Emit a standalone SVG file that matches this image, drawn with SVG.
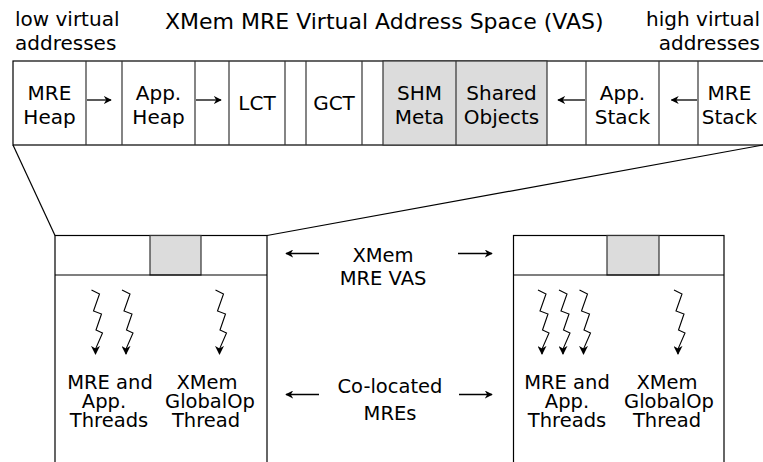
<svg xmlns="http://www.w3.org/2000/svg" width="763" height="462" viewBox="0 0 763 462">
<style>
  text { font-family: "DejaVu Sans", Verdana, sans-serif; fill: #000; }
  .title { font-size: 22px; }
  .lbl { font-size: 20px; }
  .cell { font-size: 20px; text-anchor: middle; }
  .sm { font-size: 19.5px; text-anchor: middle; }
  .box { fill: #fff; stroke: #000; stroke-width: 1.2; }
  .gray { fill: #dcdcdc; stroke: #333; stroke-width: 1.2; }
  .div { stroke: #333; stroke-width: 1.2; fill: none; }
  .ln { stroke: #000; stroke-width: 1.2; fill: none; }
  .arr { stroke: #000; stroke-width: 1.3; fill: none; marker-end: url(#ah); }
  .sq { stroke: #000; stroke-width: 1.1; fill: none; marker-end: url(#ah2); }
</style>
<defs>
  <marker id="ah" viewBox="0 0 10 10" refX="9" refY="5" markerWidth="8" markerHeight="8" markerUnits="userSpaceOnUse" orient="auto">
    <path d="M0,0 L10,5 L0,10 L3,5 Z" fill="#000"/>
  </marker>
  <marker id="ah2" viewBox="0 0 10 10" refX="9" refY="5" markerWidth="9" markerHeight="9" markerUnits="userSpaceOnUse" orient="auto">
    <path d="M0,0 L10,5 L0,10 L3,5 Z" fill="#000"/>
  </marker>
  <path id="squig" d="M-4,-65 L4,-61 L-2,-44 L6,-41 L0.5,-25 L7,-22 L0,-6 L0,-1"/>
</defs>

<g id="labels">
  <text class="lbl" x="15" y="26">low virtual</text>
  <text class="lbl" x="15" y="50">addresses</text>
  <text class="title" x="165" y="29">XMem MRE Virtual Address Space (VAS)</text>
  <text class="lbl" x="760" y="26" text-anchor="end">high virtual</text>
  <text class="lbl" x="760" y="50" text-anchor="end">addresses</text>
</g>

<g id="vas-bar">
  <rect class="box" x="13" y="61" width="760" height="84"/>
  <rect class="gray" x="383" y="61" width="164" height="84"/>
  <g class="div">
    <line x1="86" y1="61" x2="86" y2="145"/>
    <line x1="122" y1="61" x2="122" y2="145"/>
    <line x1="195" y1="61" x2="195" y2="145"/>
    <line x1="229" y1="61" x2="229" y2="145"/>
    <line x1="285" y1="61" x2="285" y2="145"/>
    <line x1="306" y1="61" x2="306" y2="145"/>
    <line x1="362" y1="61" x2="362" y2="145"/>
    <line x1="456" y1="61" x2="456" y2="145"/>
    <line x1="586" y1="61" x2="586" y2="145"/>
    <line x1="659" y1="61" x2="659" y2="145"/>
    <line x1="698" y1="61" x2="698" y2="145"/>
  </g>
</g>

<g id="mre-heap"><text class="cell" x="49.5" y="99.5">MRE</text><text class="cell" x="49.5" y="123.5">Heap</text></g>
<g id="app-heap"><text class="cell" x="158.5" y="99.5">App.</text><text class="cell" x="158.5" y="123.5">Heap</text></g>
<g id="lct"><text class="cell" x="257" y="110">LCT</text></g>
<g id="gct"><text class="cell" x="334" y="110">GCT</text></g>
<g id="shm-meta"><text class="cell" x="419.5" y="99.5">SHM</text><text class="cell" x="419.5" y="123.5">Meta</text></g>
<g id="shared-objects"><text class="cell" x="501.5" y="99.5">Shared</text><text class="cell" x="501.5" y="123.5">Objects</text></g>
<g id="app-stack"><text class="cell" x="622.5" y="99.5">App.</text><text class="cell" x="622.5" y="123.5">Stack</text></g>
<g id="mre-stack"><text class="cell" x="729.5" y="99.5">MRE</text><text class="cell" x="729.5" y="123.5">Stack</text></g>

<g id="left-mre">
  <rect class="box" x="55" y="235.5" width="212" height="240"/>
  <rect class="gray" x="150" y="235.5" width="51" height="39.5"/>
  <line class="ln" x1="55" y1="275" x2="267" y2="275"/>
  <g class="sq">
    <use href="#squig" transform="translate(95.5,355)"/>
    <use href="#squig" transform="translate(126,355)"/>
    <use href="#squig" transform="translate(219.5,355)"/>
  </g>
  <text class="sm" x="110" y="388.5">MRE and</text>
  <text class="sm" x="104" y="407.5">App.</text>
  <text class="sm" x="109" y="426.5">Threads</text>
  <text class="sm" x="207" y="388.5">XMem</text>
  <text class="sm" x="210" y="407.5">GlobalOp</text>
  <text class="sm" x="206" y="426.5">Thread</text>
</g>

<g id="right-mre">
  <rect class="box" x="513.5" y="235.5" width="210.5" height="240"/>
  <rect class="gray" x="607" y="235.5" width="52" height="39.5"/>
  <line class="ln" x1="513.5" y1="275" x2="724" y2="275"/>
  <g class="sq">
    <use href="#squig" transform="translate(542,355)"/>
    <use href="#squig" transform="translate(563,355)"/>
    <use href="#squig" transform="translate(583.5,355)"/>
    <use href="#squig" transform="translate(678,355)"/>
  </g>
  <text class="sm" x="567" y="388.5">MRE and</text>
  <text class="sm" x="567" y="407.5">App.</text>
  <text class="sm" x="567" y="426.5">Threads</text>
  <text class="sm" x="667" y="388.5">XMem</text>
  <text class="sm" x="669" y="407.5">GlobalOp</text>
  <text class="sm" x="667" y="426.5">Thread</text>
</g>

<g id="middle-labels">
  <text class="sm" x="383" y="261.5">XMem</text>
  <text class="sm" x="383" y="285">MRE VAS</text>
  <text class="sm" x="390" y="392.5">Co-located</text>
  <text class="sm" x="390" y="420">MREs</text>
</g>

<g id="connectors">
  <line class="ln" x1="13" y1="145" x2="55" y2="235.5"/>
  <line class="ln" x1="763" y1="145" x2="267" y2="235.5"/>
  <line class="arr" x1="87" y1="100" x2="111" y2="100"/>
  <line class="arr" x1="196" y1="100" x2="221" y2="100"/>
  <line class="arr" x1="585" y1="100" x2="558" y2="100"/>
  <line class="arr" x1="697" y1="100" x2="671.5" y2="100"/>
  <line class="arr" x1="319" y1="253.5" x2="286" y2="253.5"/>
  <line class="arr" x1="458" y1="253.5" x2="492" y2="253.5"/>
  <line class="arr" x1="319" y1="394.5" x2="286" y2="394.5"/>
  <line class="arr" x1="459" y1="394.5" x2="492" y2="394.5"/>
</g>
</svg>
